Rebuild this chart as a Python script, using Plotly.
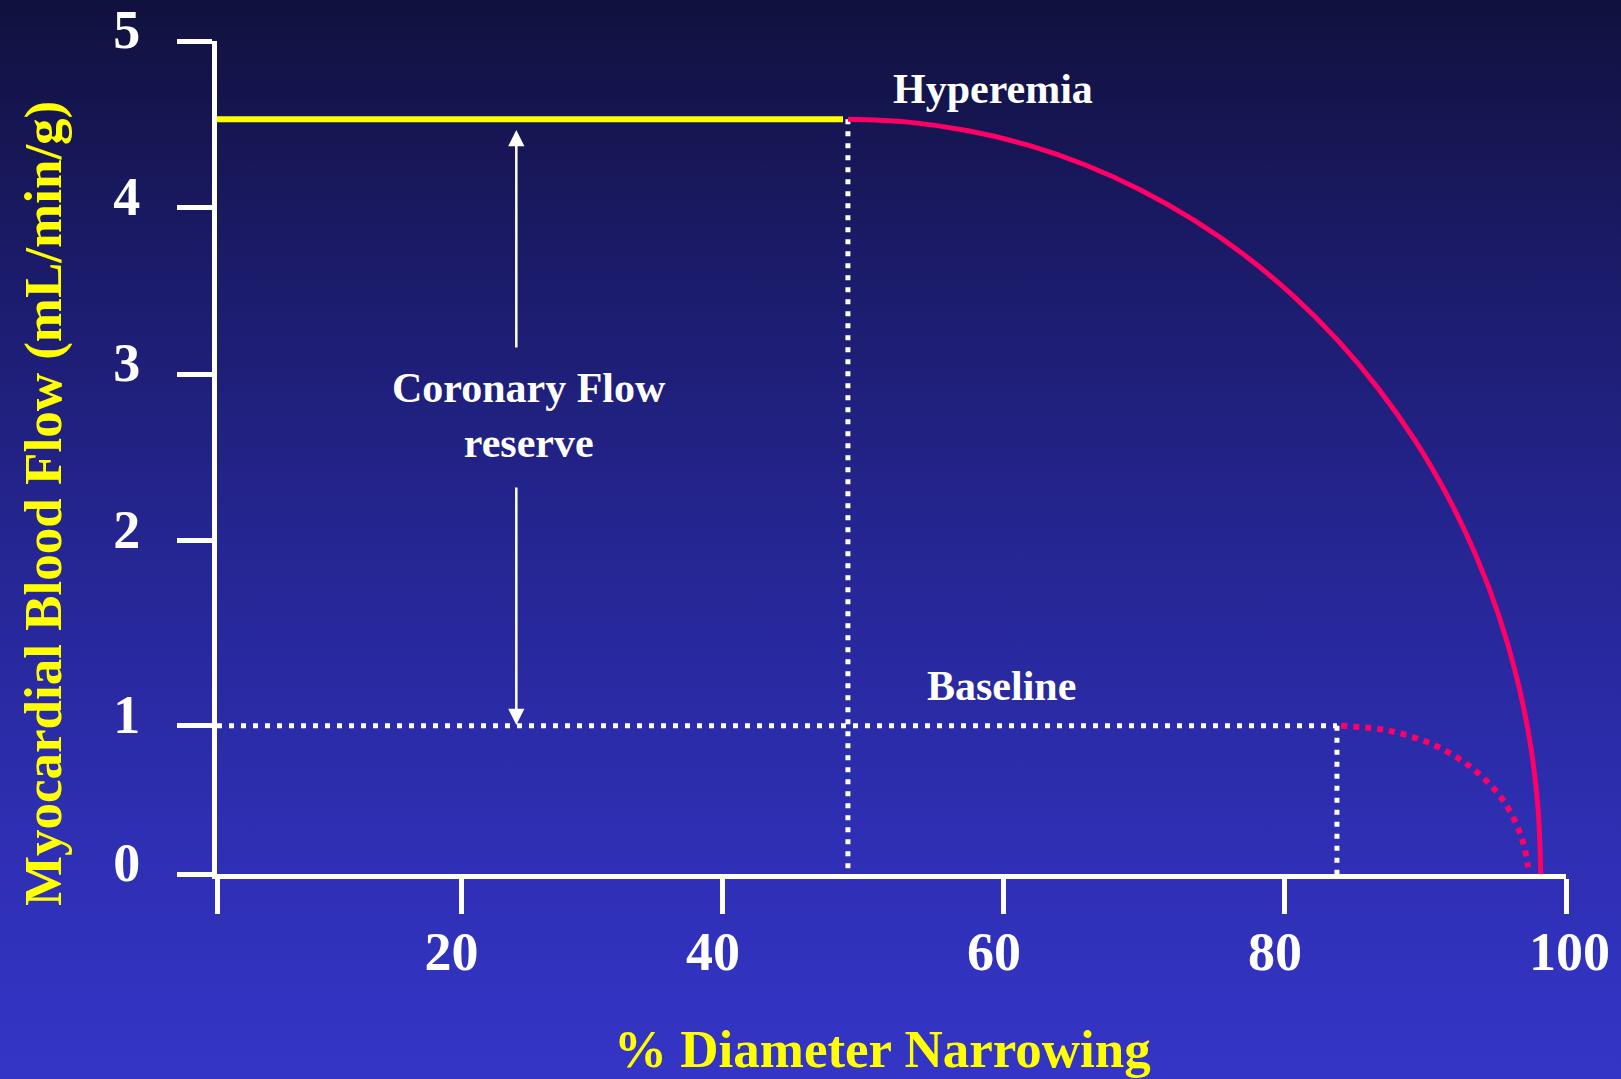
import base64
import plotly.graph_objects as go

# ---------------- data ----------------
# Hyperemic flow curve (solid red): % diameter narrowing vs flow (mL/min/g)
stenosis_hyper = [48.90, 53.20, 57.46, 61.66, 65.76, 69.73, 73.55, 77.18, 80.59, 83.76,
                  86.66, 89.29, 91.59, 93.58, 95.23, 96.52, 97.45, 98.01, 98.20]
flow_hyper = [4.530, 4.513, 4.461, 4.376, 4.257, 4.106, 3.923, 3.711, 3.470, 3.203,
              2.912, 2.598, 2.265, 1.914, 1.549, 1.172, 0.787, 0.395, 0.0]

# Resting flow curve beyond the critical stenosis (dotted red)
stenosis_base = [84.0, 87.4, 90.7, 93.4, 95.5, 96.8, 97.3]
flow_base = [0.89, 0.86, 0.77, 0.63, 0.445, 0.23, 0.04]

hyperemia_flow = 4.53     # plateau flow at hyperemia
baseline_flow = 0.89      # resting flow level (drawn at the "1" tick)
hyper_break = 48.9        # stenosis where hyperemic flow starts to fall
base_break = 83.7         # stenosis where resting flow starts to fall
axis_origin_x = 4.0

x_tick_vals = [4.0, 21.4, 40, 60, 80, 100]
x_tick_text = ["", "20", "40", "60", "80", "&nbsp;&nbsp;100"]
y_tick_vals = [0, 0.89, 2, 3, 4, 5]
y_tick_text = ["0", "1", "2", "3", "4", "5"]

x_title = "% Diameter Narrowing"
y_title = "Myocardial Blood Flow (mL/min/g)"

# ---------------- layout constants ----------------
W, H = 1621, 1079
ML, MR, MT, MB = 217, 55, 41, 205
PW, PH = W - ML - MR, H - MT - MB

FONT = "Liberation Serif"
YELLOW = "#ffff00"
RED = "#ff0066"
WHITE = "#ffffff"

stops = [(0.0, "#11113e"), (0.25, "#1b1b6a"), (0.5, "#252592"), (0.75, "#2d2eb0"), (1.0, "#3435c6")]
stop_xml = "".join(f'<stop offset="{o}" stop-color="{c}"/>' for o, c in stops)
svg = (f'<svg xmlns="http://www.w3.org/2000/svg" width="{W}" height="{H}" preserveAspectRatio="none">'
       f'<defs><linearGradient id="g" x1="0" y1="0" x2="0" y2="1">{stop_xml}</linearGradient></defs>'
       f'<rect width="{W}" height="{H}" fill="url(#g)"/></svg>')
bg_src = "data:image/svg+xml;base64," + base64.b64encode(svg.encode()).decode()

fig = go.Figure()

dot = "5px,7px"

# white dotted guide lines
fig.add_trace(go.Scatter(x=[axis_origin_x, base_break], y=[baseline_flow, baseline_flow],
                         mode="lines", line=dict(color=WHITE, width=5, dash=dot)))
fig.add_trace(go.Scatter(x=[hyper_break, hyper_break], y=[hyperemia_flow, 0],
                         mode="lines", line=dict(color=WHITE, width=5, dash=dot)))
fig.add_trace(go.Scatter(x=[base_break, base_break], y=[baseline_flow, 0],
                         mode="lines", line=dict(color=WHITE, width=5, dash=dot)))

# yellow hyperemia plateau
fig.add_trace(go.Scatter(x=[axis_origin_x, hyper_break - 0.35], y=[hyperemia_flow, hyperemia_flow],
                         mode="lines", line=dict(color=YELLOW, width=6)))

# red curves
fig.add_trace(go.Scatter(x=stenosis_hyper, y=flow_hyper, mode="lines",
                         line=dict(color=RED, width=5, shape="spline", smoothing=1.0)))
fig.add_trace(go.Scatter(x=stenosis_base, y=flow_base, mode="lines",
                         line=dict(color=RED, width=6, dash="6px,6px", shape="spline", smoothing=1.0)))

tick_font = dict(family=FONT, size=54, color=WHITE, weight="bold")
label_font = dict(family=FONT, size=42, color=WHITE, weight="bold")
title_font = dict(family=FONT, size=53, color=YELLOW, weight="bold")

annotations = [
    dict(x=59.2, y=4.71, xref="x", yref="y", text="Hyperemia", showarrow=False,
         font=label_font, xanchor="center", yanchor="middle"),
    dict(x=59.8, y=1.13, xref="x", yref="y", text="Baseline", showarrow=False,
         font=label_font, xanchor="center", yanchor="middle"),
    dict(x=26.2, y=2.75, xref="x", yref="y", text="Coronary Flow<br>reserve", showarrow=False,
         font=label_font, xanchor="center", yanchor="middle"),
    # double arrow (two halves around the text)
    dict(x=25.3, y=4.466, ax=25.3, ay=3.151, xref="x", yref="y", axref="x", ayref="y",
         text="", showarrow=True, arrowhead=2, arrowsize=1.3, arrowwidth=2.5, arrowcolor=WHITE),
    dict(x=25.3, y=0.894, ax=25.3, ay=2.329, xref="x", yref="y", axref="x", ayref="y",
         text="", showarrow=True, arrowhead=2, arrowsize=1.3, arrowwidth=2.5, arrowcolor=WHITE),
    # axis titles
    dict(x=(882 - ML) / PW, y=((H - MB) - 1049) / PH, xref="paper", yref="paper",
         text=x_title, showarrow=False, font=title_font, xanchor="center", yanchor="middle"),
    dict(x=(43 - ML) / PW, y=((H - MB) - 504) / PH, xref="paper", yref="paper",
         text=y_title, showarrow=False, font=title_font, textangle=-90,
         xanchor="center", yanchor="middle"),
]

fig.update_layout(
    width=W, height=H,
    margin=dict(l=ML, r=MR, t=MT, b=MB, pad=0, autoexpand=False),
    paper_bgcolor="#252592",
    plot_bgcolor="rgba(0,0,0,0)",
    showlegend=False,
    hovermode=False,
    annotations=annotations,
    images=[dict(source=bg_src, xref="paper", yref="paper",
                 x=-ML / PW, y=1 + MT / PH, sizex=W / PW, sizey=H / PH,
                 xanchor="left", yanchor="top", sizing="stretch", layer="below")],
    xaxis=dict(range=[axis_origin_x, 100], showgrid=False, zeroline=False, automargin=False,
               showline=True, linecolor=WHITE, linewidth=5,
               ticks="outside", ticklen=35, tickwidth=5, tickcolor=WHITE,
               tickmode="array", tickvals=x_tick_vals, ticktext=x_tick_text,
               tickfont=tick_font, ticklabelstandoff=-9, ticklabelshift=-10,
               ticklabeloverflow="allow"),
    yaxis=dict(range=[0, 5], showgrid=False, zeroline=False, automargin=False,
               showline=True, linecolor=WHITE, linewidth=5,
               ticks="outside", ticklen=35, tickwidth=5, tickcolor=WHITE,
               tickmode="array", tickvals=y_tick_vals, ticktext=y_tick_text,
               tickfont=tick_font, ticklabelstandoff=26, ticklabelshift=-12,
               ticklabeloverflow="allow"),
)

fig.write_html("out.html")
